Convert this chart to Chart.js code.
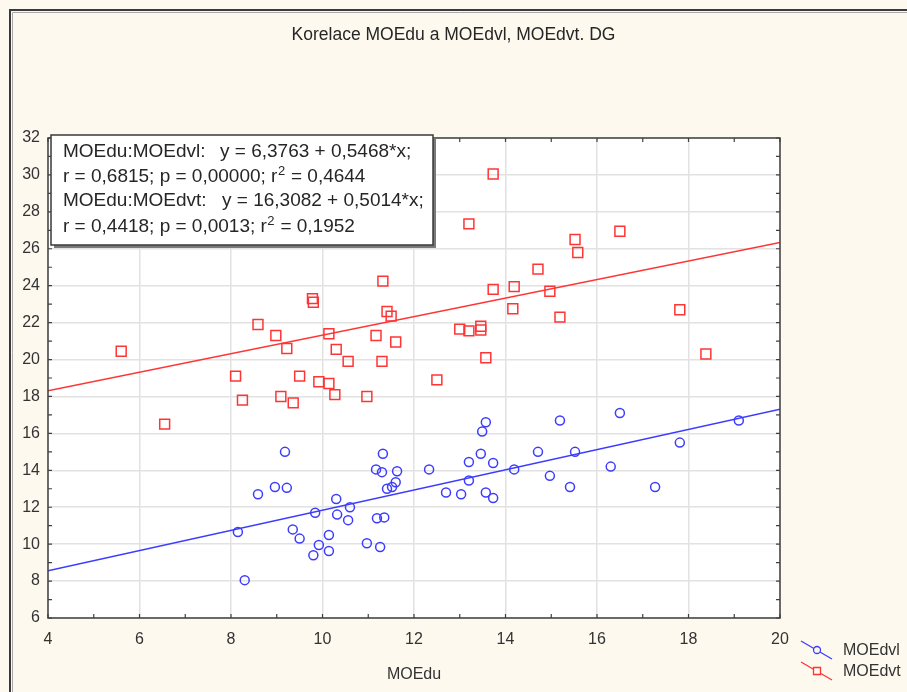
<!DOCTYPE html>
<html>
<head>
<meta charset="utf-8">
<script src="https://cdn.jsdelivr.net/npm/chart.js@4"></script>
<style>
html,body{margin:0;padding:0;background:#fdf9ef;}
#wrap{position:relative;width:907px;height:692px;}
</style>
</head>
<body>
<div id="wrap"><canvas id="c" width="907" height="692"></canvas></div>
<script>
// ---- data ----
const seriesNames = ['MOEdvl', 'MOEdvt'];
const xTickValues = [4, 6, 8, 10, 12, 14, 16, 18, 20];
const yTickValues = [6, 8, 10, 12, 14, 16, 18, 20, 22, 24, 26, 28, 30, 32];

const moedvlX = [8.15, 8.3, 8.59, 8.96, 9.18, 9.22, 9.35, 9.5, 9.8, 9.84, 9.92, 10.14, 10.14, 10.3, 10.32, 10.56, 10.6, 10.97, 11.17, 11.19, 11.26, 11.32, 11.3, 11.35, 11.41, 11.52, 11.63, 11.6, 12.33, 12.7, 13.03, 13.2, 13.2, 13.46, 13.73, 13.57, 13.49, 13.57, 13.73, 14.19, 14.71, 15.19, 14.97, 15.41, 15.52, 16.3, 16.5, 17.27, 17.81, 19.1];
const moedvlY = [10.66, 8.05, 12.7, 13.1, 15.0, 13.05, 10.8, 10.3, 9.4, 11.7, 9.95, 10.5, 9.63, 12.45, 11.6, 11.3, 12.0, 10.05, 14.05, 11.4, 9.85, 14.9, 13.9, 11.45, 13.0, 13.1, 13.95, 13.35, 14.05, 12.8, 12.7, 13.45, 14.45, 14.9, 14.4, 16.6, 16.1, 12.8, 12.5, 14.05, 15.0, 16.7, 13.7, 13.1, 15.0, 14.2, 17.1, 13.1, 15.5, 16.7];

const moedvtX = [5.6, 6.55, 8.1, 8.25, 8.59, 8.98, 9.09, 9.22, 9.36, 9.5, 9.78, 9.8, 9.92, 10.14, 10.14, 10.3, 10.27, 10.56, 10.97, 11.17, 11.3, 11.32, 11.41, 11.5, 11.6, 12.5, 13.0, 13.2, 13.46, 13.46, 13.57, 13.2, 13.73, 13.73, 14.19, 14.16, 14.71, 14.97, 15.19, 15.52, 15.58, 16.5, 17.81, 18.38];
const moedvtY = [20.45, 16.5, 19.1, 17.8, 21.9, 21.3, 18.0, 20.6, 17.65, 19.1, 23.3, 23.1, 18.8, 21.4, 18.7, 20.55, 18.1, 19.9, 18.0, 21.3, 19.9, 24.25, 22.6, 22.35, 20.95, 18.9, 21.65, 21.55, 21.8, 21.6, 20.1, 27.35, 30.05, 23.8, 23.95, 22.75, 24.9, 23.7, 22.3, 26.5, 25.8, 26.95, 22.7, 20.3];

// regression: [intercept, slope, r, p, r2]
const statsVl = ['6,3763', '0,5468', '0,6815', '0,00000', '0,4644'];
const statsVt = ['16,3082', '0,5014', '0,4418', '0,0013', '0,1952'];
const fitVl = [6.3763, 0.5468];
const fitVt = [16.3082, 0.5014];

// ---- build chart ----
const BLUE = '#3c3cff';
const RED = '#ff3535';
const FONT = "'Liberation Sans', Arial, sans-serif";
const xMin = xTickValues[0], xMax = xTickValues[xTickValues.length - 1];
const yMin = yTickValues[0], yMax = yTickValues[yTickValues.length - 1];

function pts(xs, ys) { return xs.map((x, i) => ({ x: x, y: ys[i] })); }
function fitLine(f) { return [{ x: xMin, y: f[0] + f[1] * xMin }, { x: xMax, y: f[0] + f[1] * xMax }]; }

const framePlugin = {
  id: 'frame',
  beforeDraw(chart) {
    const ctx = chart.ctx, a = chart.chartArea;
    ctx.save();
    ctx.fillStyle = '#fdf9ef';
    ctx.fillRect(0, 0, chart.width, chart.height);
    // outer window border
    ctx.strokeStyle = '#3a3a3a'; ctx.lineWidth = 2;
    ctx.beginPath(); ctx.moveTo(10, chart.height); ctx.lineTo(10, 10); ctx.lineTo(chart.width, 10); ctx.stroke();
    ctx.strokeStyle = '#a8a8a8'; ctx.lineWidth = 1;
    ctx.beginPath(); ctx.moveTo(12.5, chart.height); ctx.lineTo(12.5, 12.5); ctx.lineTo(chart.width, 12.5); ctx.stroke();
    ctx.fillStyle = '#ffffff';
    ctx.fillRect(a.left, a.top, a.right - a.left, a.bottom - a.top);
    ctx.restore();
  },
  afterDraw(chart) {
    const ctx = chart.ctx, a = chart.chartArea;
    const xs = chart.scales.x, ys = chart.scales.y;
    ctx.save();
    // plot frame
    ctx.strokeStyle = '#404040'; ctx.lineWidth = 1.5;
    ctx.strokeRect(a.left, a.top, a.right - a.left, a.bottom - a.top);
    // inward ticks on all sides
    ctx.lineWidth = 1.2;
    ctx.beginPath();
    for (let v = xMin; v <= xMax; v += 1) {
      const px = xs.getPixelForValue(v);
      ctx.moveTo(px, a.bottom); ctx.lineTo(px, a.bottom - 4);
      ctx.moveTo(px, a.top); ctx.lineTo(px, a.top + 4);
    }
    for (let v = yMin; v <= yMax; v += 1) {
      const py = ys.getPixelForValue(v);
      ctx.moveTo(a.left, py); ctx.lineTo(a.left + 4, py);
      ctx.moveTo(a.right, py); ctx.lineTo(a.right - 4, py);
    }
    ctx.stroke();

    // statistics box
    const bx = 51, by = 135, bw = 382, bh = 110;
    ctx.fillStyle = '#7a7a7a';
    ctx.fillRect(bx + 3, by + 3, bw, bh);
    ctx.fillStyle = '#ffffff';
    ctx.fillRect(bx, by, bw, bh);
    ctx.strokeStyle = '#3a3a3a'; ctx.lineWidth = 1.5;
    ctx.strokeRect(bx, by, bw, bh);
    ctx.fillStyle = '#262626';
    ctx.textBaseline = 'middle';
    ctx.textAlign = 'left';
    const f = '19px ' + FONT, fs = '13px ' + FONT;
    function statLines(name, s, y1, y2, eqX) {
      ctx.font = f;
      ctx.fillText('MOEdu:' + name + ':', 63, y1);
      ctx.fillText('y = ' + s[0] + ' + ' + s[1] + '*x;', eqX, y1);
      let t = 'r = ' + s[2] + '; p = ' + s[3] + '; r';
      ctx.fillText(t, 63, y2);
      let w = ctx.measureText(t).width;
      ctx.font = fs;
      ctx.fillText('2', 63 + w + 0.5, y2 - 6);
      let w2 = ctx.measureText('2').width;
      ctx.font = f;
      ctx.fillText(' = ' + s[4], 63 + w + w2 + 1, y2);
    }
    statLines(seriesNames[0], statsVl, 152, 177, 220);
    statLines(seriesNames[1], statsVt, 201, 227, 222);

    // legend
    const items = [
      { name: chart.data.datasets[0].label, color: BLUE, style: 'circle', y: 651 },
      { name: chart.data.datasets[1].label, color: RED, style: 'rect', y: 672 }
    ];
    items.forEach(it => {
      ctx.strokeStyle = it.color; ctx.lineWidth = 1.3;
      ctx.beginPath(); ctx.moveTo(801, it.y - 10); ctx.lineTo(832, it.y + 8); ctx.stroke();
      ctx.beginPath();
      if (it.style === 'circle') { ctx.arc(817, it.y - 1, 3.5, 0, Math.PI * 2); }
      else { ctx.rect(813.5, it.y - 4.5, 7, 7); }
      ctx.fillStyle = '#fdf9ef'; ctx.fill(); ctx.stroke();
      ctx.fillStyle = '#333333'; ctx.font = '16px ' + FONT;
      ctx.textBaseline = 'middle';
      ctx.fillText(it.name, 843, it.y);
    });
    ctx.restore();
  }
};

new Chart(document.getElementById('c'), {
  type: 'scatter',
  data: {
    datasets: [
      { label: seriesNames[0], data: pts(moedvlX, moedvlY), pointStyle: 'circle', pointRadius: 4.5,
        borderColor: BLUE, backgroundColor: 'rgba(0,0,0,0)', borderWidth: 1.5, order: 1 },
      { label: seriesNames[1], data: pts(moedvtX, moedvtY), pointStyle: 'rect', pointRadius: 7,
        borderColor: RED, backgroundColor: 'rgba(0,0,0,0)', borderWidth: 1.5, order: 1 },
      { label: 'fit ' + seriesNames[0], type: 'line', data: fitLine(fitVl), borderColor: BLUE,
        borderWidth: 1.5, pointRadius: 0, fill: false, order: 2 },
      { label: 'fit ' + seriesNames[1], type: 'line', data: fitLine(fitVt), borderColor: RED,
        borderWidth: 1.5, pointRadius: 0, fill: false, order: 2 }
    ]
  },
  options: {
    responsive: false,
    animation: false,
    events: [],
    layout: { padding: { top: 25, right: 0, bottom: 0, left: 0 } },
    plugins: {
      legend: { display: false },
      tooltip: { enabled: false },
      title: {
        display: true,
        text: 'Korelace MOEdu a MOEdvl, MOEdvt. DG',
        color: '#262626',
        font: { family: FONT, size: 17.5, weight: 'normal', lineHeight: 1.2 },
        padding: { top: 0, bottom: 92 }
      }
    },
    scales: {
      x: {
        type: 'linear', min: xMin, max: xMax,
        afterBuildTicks(s) { s.ticks = xTickValues.map(v => ({ value: v })); },
        afterFit(s) { s.height = 74; },
        grid: { color: '#e2e2e2', lineWidth: 1.5, drawTicks: false },
        border: { display: false },
        ticks: { color: '#333333', padding: 12, font: { family: FONT, size: 16 } },
        title: { display: true, text: 'MOEdu', color: '#333333', font: { family: FONT, size: 16 },
                 padding: { top: 0, bottom: 8 } }
      },
      y: {
        type: 'linear', min: yMin, max: yMax,
        afterBuildTicks(s) { s.ticks = yTickValues.map(v => ({ value: v })); },
        afterFit(s) { s.width = 48; },
        grid: { color: '#e2e2e2', lineWidth: 1.5, drawTicks: false },
        border: { display: false },
        ticks: { color: '#333333', padding: 8, font: { family: FONT, size: 16 } }
      },
      yRight: {
        type: 'linear', position: 'right', min: yMin, max: yMax,
        afterFit(s) { s.width = 127; },
        grid: { display: false, drawTicks: false },
        border: { display: false },
        ticks: { display: false }
      }
    }
  },
  plugins: [framePlugin]
});
</script>
</body>
</html>
